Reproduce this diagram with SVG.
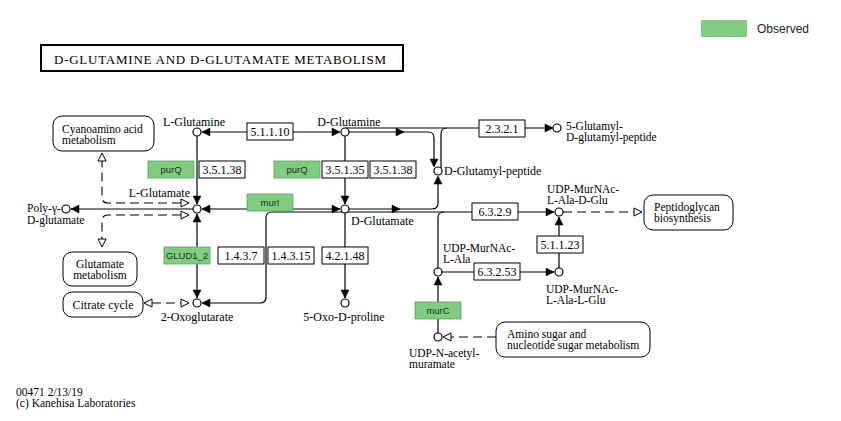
<svg xmlns="http://www.w3.org/2000/svg" xmlns:xlink="http://www.w3.org/1999/xlink" width="841" height="421" viewBox="0 0 841 421">
<style>
  text { font-family: "Liberation Serif", "Times New Roman", serif; font-size: 12px; fill: #000; }
  .two { font-size: 11.5px; }
  .ln { fill: none; stroke: #000; stroke-width: 1.2; }
  .ds { fill: none; stroke: #000; stroke-width: 1.1; stroke-dasharray: 9 5; }
  .cpd { fill: #fff; stroke: #000; stroke-width: 1.2; }
  .enz { fill: #fff; stroke: #000; stroke-width: 1; }
  .obs { fill: #80cc80; stroke: #5f9f5f; stroke-width: 0.8; }
  .map { fill: #fff; stroke: #000; stroke-width: 1; }
  .et { text-anchor: middle; font-size: 12px; }
  .gt { text-anchor: middle; font-family: "Liberation Sans", Arial, sans-serif; font-size: 9.5px; fill: #1f2f1f; }
  .mid { text-anchor: middle; }
</style>
<defs>
  <path id="ah" d="M0,0 L-8,-4 L-8,4 Z" fill="#000" stroke="#000" stroke-width="0.5"/>
  <path id="oh" d="M0,0 L-8,-4 L-8,4 Z" fill="#fff" stroke="#000" stroke-width="1"/>
</defs>
<rect width="841" height="421" fill="#fff"/>

<!-- legend -->
<g id="legend">
  <rect x="701" y="20" width="46" height="17" fill="#80cc80"/>
  <text x="757" y="33" style="font-family:'Liberation Sans',Arial,sans-serif;font-size:12px;fill:#222">Observed</text>
</g>

<!-- title -->
<g id="title">
  <rect x="41" y="45" width="362" height="26" fill="#fff" stroke="#000" stroke-width="2"/>
  <text x="54" y="64" style="font-size:13px" textLength="332" lengthAdjust="spacing">D-GLUTAMINE AND D-GLUTAMATE METABOLISM</text>
</g>

<!-- connectors -->
<g id="connectors">
  <!-- 5.1.1.10 -->
  <line class="ln" x1="202" y1="132" x2="340" y2="132"/>
  <use xlink:href="#ah" transform="translate(202,132) rotate(180)"/>
  <use xlink:href="#ah" transform="translate(340,132)"/>
  <!-- L-Gln -> L-Glu -->
  <line class="ln" x1="197" y1="136" x2="197" y2="204"/>
  <use xlink:href="#ah" transform="translate(197,204) rotate(90)"/>
  <!-- D-Gln -> D-Glu -->
  <line class="ln" x1="345" y1="136" x2="345" y2="204"/>
  <use xlink:href="#ah" transform="translate(345,204) rotate(90)"/>
  <!-- murI -->
  <line class="ln" x1="202" y1="209" x2="340" y2="209"/>
  <use xlink:href="#ah" transform="translate(202,209) rotate(180)"/>
  <use xlink:href="#ah" transform="translate(340,209)"/>
  <!-- L-Glu -> Poly -->
  <line class="ln" x1="193" y1="209" x2="71" y2="209"/>
  <use xlink:href="#ah" transform="translate(71,209) rotate(180)"/>
  <!-- dashed to Cyanoamino -->
  <path class="ds" d="M181,203 H108 Q102,203 102,197 V160"/>
  <use xlink:href="#oh" transform="translate(189,203)"/>
  <use xlink:href="#oh" transform="translate(102,153) rotate(-90)"/>
  <!-- dashed to Glutamate metabolism -->
  <path class="ds" d="M181,215 H108 Q102,215 102,221 V240"/>
  <use xlink:href="#oh" transform="translate(189,215)"/>
  <use xlink:href="#oh" transform="translate(102,247) rotate(90)"/>
  <!-- GLUD1_2 -->
  <line class="ln" x1="197" y1="214" x2="197" y2="298"/>
  <use xlink:href="#ah" transform="translate(197,214) rotate(-90)"/>
  <use xlink:href="#ah" transform="translate(197,298) rotate(90)"/>
  <!-- Citrate cycle -->
  <path class="ds" d="M152,303 H181"/>
  <use xlink:href="#oh" transform="translate(144,303) rotate(180)"/>
  <use xlink:href="#oh" transform="translate(189,303)"/>
  <!-- D-Glu -> 2-Oxo (1.4.3.7 / 1.4.3.15) and D-Glu -> 6.3.2.9 -->
  <path class="ln" d="M554,212 H272 Q266,212 266,218 V297 Q266,303 260,303 H202"/>
  <use xlink:href="#ah" transform="translate(202,303) rotate(180)"/>
  <use xlink:href="#ah" transform="translate(554,212)"/>
  <!-- D-Glu -> 5-Oxo-D-proline -->
  <line class="ln" x1="345" y1="213" x2="345" y2="298"/>
  <use xlink:href="#ah" transform="translate(345,298) rotate(90)"/>
  <!-- D-Gln -> D-Glutamyl-peptide -->
  <path class="ln" d="M349,132 H428 Q434,132 434,138 V166"/>
  <use xlink:href="#ah" transform="translate(404,132)"/>
  <use xlink:href="#ah" transform="translate(434,167) rotate(90)"/>
  <!-- D-Gln + D-Glutamyl-peptide -> 2.3.2.1 -> 5-Glutamyl-D-glutamyl-peptide -->
  <path class="ln" d="M345,128 H552"/>
  <path class="ln" d="M441,168 V134 Q441,128 447,128"/>
  <use xlink:href="#ah" transform="translate(553,128)"/>
  <!-- D-Glu -> D-Glutamyl-peptide -->
  <path class="ln" d="M349,209 H432 Q438,209 438,203 V177"/>
  <use xlink:href="#ah" transform="translate(400,209)"/>
  <use xlink:href="#ah" transform="translate(438,176) rotate(-90)"/>
  <!-- UDP-MurNAc-L-Ala -> 6.3.2.9 -->
  <path class="ln" d="M438,268 V218 Q438,212 444,212"/>
  <!-- 6.3.2.53 -->
  <line class="ln" x1="442" y1="272" x2="554" y2="272"/>
  <use xlink:href="#ah" transform="translate(554,272)"/>
  <!-- 5.1.1.23 -->
  <line class="ln" x1="559" y1="268" x2="559" y2="217"/>
  <use xlink:href="#ah" transform="translate(559,217) rotate(-90)"/>
  <!-- to Peptidoglycan -->
  <path class="ds" d="M563,212 H634"/>
  <use xlink:href="#oh" transform="translate(642,212)"/>
  <!-- murC -->
  <line class="ln" x1="438" y1="333" x2="438" y2="277"/>
  <use xlink:href="#ah" transform="translate(438,277) rotate(-90)"/>
  <!-- from Amino sugar -->
  <path class="ds" d="M496,337 H451"/>
  <use xlink:href="#oh" transform="translate(443,337) rotate(180)"/>
</g>

<!-- enzymes -->
<g id="e511110"><rect class="enz" x="247" y="123" width="46" height="17"/><text class="et" x="270" y="136">5.1.1.10</text></g>
<g id="purQ1"><rect class="obs" x="148" y="161" width="46" height="17"/><text class="gt" x="171" y="173">purQ</text></g>
<g id="e35138a"><rect class="enz" x="199" y="161" width="46" height="17"/><text class="et" x="222" y="174">3.5.1.38</text></g>
<g id="purQ2"><rect class="obs" x="274" y="161" width="46" height="17"/><text class="gt" x="297" y="173">purQ</text></g>
<g id="e35135"><rect class="enz" x="322" y="161" width="46" height="17"/><text class="et" x="345" y="174">3.5.1.35</text></g>
<g id="e35138b"><rect class="enz" x="370" y="161" width="46" height="17"/><text class="et" x="393" y="174">3.5.1.38</text></g>
<g id="murI"><rect class="obs" x="247" y="194" width="46" height="17"/><text class="gt" x="270" y="206">murI</text></g>
<g id="GLUD1_2"><rect class="obs" x="164" y="247" width="46" height="17"/><text class="gt" x="187" y="259">GLUD1_2</text></g>
<g id="e1437"><rect class="enz" x="218" y="247" width="46" height="17"/><text class="et" x="241" y="260">1.4.3.7</text></g>
<g id="e14315"><rect class="enz" x="268" y="247" width="46" height="17"/><text class="et" x="291" y="260">1.4.3.15</text></g>
<g id="e42148"><rect class="enz" x="322" y="247" width="46" height="17"/><text class="et" x="345" y="260">4.2.1.48</text></g>
<g id="e2321"><rect class="enz" x="479" y="120" width="46" height="17"/><text class="et" x="502" y="133">2.3.2.1</text></g>
<g id="e6329"><rect class="enz" x="472" y="203" width="46" height="17"/><text class="et" x="495" y="216">6.3.2.9</text></g>
<g id="e51123"><rect class="enz" x="537" y="236" width="46" height="17"/><text class="et" x="560" y="249">5.1.1.23</text></g>
<g id="e63253"><rect class="enz" x="474" y="263" width="46" height="17"/><text class="et" x="497" y="276">6.3.2.53</text></g>
<g id="murC"><rect class="obs" x="415" y="302" width="46" height="17"/><text class="gt" x="438" y="314">murC</text></g>

<!-- compounds -->
<g id="L-Glutamine"><circle class="cpd" cx="197" cy="132" r="4"/><text class="mid" x="194" y="126">L-Glutamine</text></g>
<g id="D-Glutamine"><circle class="cpd" cx="345" cy="132" r="4"/><text class="mid" x="349" y="126">D-Glutamine</text></g>
<g id="L-Glutamate"><circle class="cpd" cx="197" cy="209" r="4"/><text x="190" y="197" text-anchor="end">L-Glutamate</text></g>
<g id="D-Glutamate"><circle class="cpd" cx="345" cy="209" r="4"/><text x="351" y="225">D-Glutamate</text></g>
<g id="Poly-gamma-D-glutamate"><circle class="cpd" cx="66" cy="209" r="4"/><text class="two" x="27" y="212">Poly-γ-</text><text class="two" x="27" y="223.5">D-glutamate</text></g>
<g id="2-Oxoglutarate"><circle class="cpd" cx="197" cy="303" r="4"/><text class="mid" x="197" y="321">2-Oxoglutarate</text></g>
<g id="5-Oxo-D-proline"><circle class="cpd" cx="345" cy="303" r="4"/><text class="mid" x="344" y="321">5-Oxo-D-proline</text></g>
<g id="D-Glutamyl-peptide"><circle class="cpd" cx="438" cy="171" r="4"/><text x="444" y="175">D-Glutamyl-peptide</text></g>
<g id="5-Glutamyl-D-glutamyl-peptide"><circle class="cpd" cx="557" cy="128" r="4"/><text class="two" x="566" y="129.5">5-Glutamyl-</text><text class="two" x="566" y="141">D-glutamyl-peptide</text></g>
<g id="UDP-MurNAc-L-Ala-D-Glu"><circle class="cpd" cx="559" cy="212" r="4"/><text class="two" x="547" y="192.5">UDP-MurNAc-</text><text class="two" x="547" y="204">L-Ala-D-Glu</text></g>
<g id="UDP-MurNAc-L-Ala"><circle class="cpd" cx="438" cy="272" r="4"/><text class="two" x="443" y="251.5">UDP-MurNAc-</text><text class="two" x="443" y="263">L-Ala</text></g>
<g id="UDP-MurNAc-L-Ala-L-Glu"><circle class="cpd" cx="559" cy="272" r="4"/><text class="two" x="546" y="292.5">UDP-MurNAc-</text><text class="two" x="546" y="304">L-Ala-L-Glu</text></g>
<g id="UDP-N-acetylmuramate"><circle class="cpd" cx="438" cy="337" r="4"/><text class="two" x="409" y="356.5">UDP-N-acetyl-</text><text class="two" x="409" y="368">muramate</text></g>

<!-- pathway maps -->
<g id="map-cyanoamino"><rect class="map" x="53" y="116" width="101" height="35" rx="9"/><text class="two" x="62" y="132.5">Cyanoamino acid</text><text class="two" x="62" y="144">metabolism</text></g>
<g id="map-glutamate"><rect class="map" x="63" y="252" width="74" height="34" rx="9"/><text class="two mid" x="100" y="267.5">Glutamate</text><text class="two mid" x="100" y="279">metabolism</text></g>
<g id="map-citrate"><rect class="map" x="63" y="292" width="80" height="25" rx="9"/><text class="mid" x="103" y="308.5">Citrate cycle</text></g>
<g id="map-peptidoglycan"><rect class="map" x="644" y="195" width="89" height="35" rx="9"/><text class="two" x="654" y="210.5">Peptidoglycan</text><text class="two" x="654" y="222">biosynthesis</text></g>
<g id="map-aminosugar"><rect class="map" x="496" y="322" width="154" height="35" rx="9"/><text class="two" x="507" y="337.5">Amino sugar and</text><text class="two" x="507" y="349">nucleotide sugar metabolism</text></g>

<!-- footer -->
<g id="footer">
  <text x="16" y="395.5" style="font-size:11.5px">00471 2/13/19</text>
  <text x="16" y="407" style="font-size:11.5px">(c) Kanehisa Laboratories</text>
</g>
</svg>
